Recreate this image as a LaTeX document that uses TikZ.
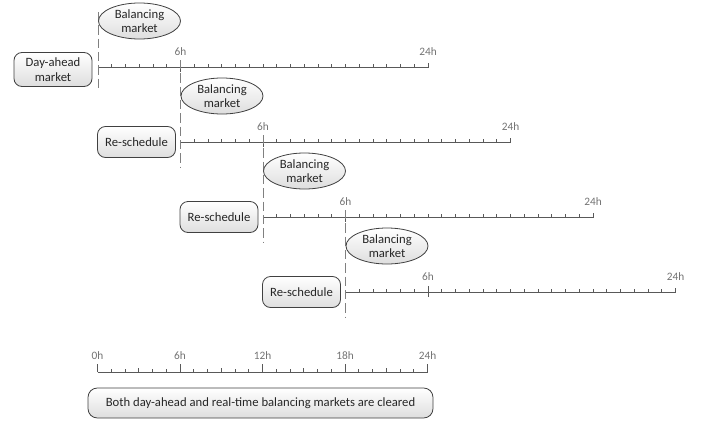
\documentclass[tikz,border=0pt]{standalone}
\usepackage{fontspec}
\setmainfont{Carlito}
\usetikzlibrary{shapes.geometric}
\newcommand{\myrowruler}[2]{% #1 start x, #2 y
  \draw[tl] (#1,#2) -- ++(330,0) -- ++(0,-4);
  \foreach \h in {1,...,23}{
    \draw[tl] (#1+\h*13.75,#2) -- ++(0,-3);
  }
  \draw[tl] (#1+82.5,#2-6) -- ++(0,11);}
\newcommand{\mybottomruler}[2]{% #1 start x, #2 y
  \draw[tl] (#1,#2) -- ++(330,0) -- ++(0,-8);
  \foreach \h in {1,...,23}{
    \pgfmathsetmacro\tk{ifthenelse(mod(\h,6)==0,8,ifthenelse(mod(\h,3)==0,4,3))}
    \draw[tl] (#1+\h*13.75,#2) -- ++(0,-\tk);
  }}
\begin{document}
\begin{tikzpicture}[x=0.75pt,y=-0.75pt,
  font=\fontsize{9.5}{11}\selectfont,
  bm/.style={ellipse, draw=black!75, line width=0.6pt, top color=white, bottom color=black!13,
    minimum width=61.5pt, minimum height=27pt, inner sep=0pt, align=center, text=black!85},
  rbox/.style={rounded corners=6pt, draw=black!75, line width=0.6pt, top color=white, bottom color=black!13,
    minimum width=58.5pt, minimum height=23.25pt, inner sep=0pt, align=center, text=black!85},
  tl/.style={draw=black!65, line width=0.6pt},
  vdash/.style={draw=black!50, line width=0.6pt, dash pattern=on 7pt off 3pt},
  hlab/.style={text=black!55, inner sep=0pt, font=\fontsize{8.5}{10}\selectfont}]
\useasboundingbox (0,0) rectangle (702,421);

% rows
\foreach \k in {1,...,4}{
  \pgfmathsetmacro\sx{98+82.5*(\k-1)}
  \pgfmathsetmacro\ly{67+75*(\k-1)}
  \coordinate (s\k) at (\sx,\ly);
  \myrowruler{\sx}{\ly}
  \node[hlab] (six\k) at (\sx+82.5,\ly-15) {6h};
  \node[hlab] (tf\k) at (\sx+330,\ly-15) {24h};
}

% dashed verticals
\coordinate (d1a) at (98,12);   \coordinate (d1b) at (98,92);
\coordinate (d2a) at (180.5,60); \coordinate (d2b) at (180.5,167);
\coordinate (d3a) at (263,135); \coordinate (d3b) at (263,242);
\coordinate (d4a) at (345.5,210); \coordinate (d4b) at (345.5,317);
\draw[vdash] (d1a) -- (d1b);
\draw[vdash] (d2a) -- (d2b);
\draw[vdash] (d3a) -- (d3b);
\draw[vdash] (d4a) -- (d4b);

% balancing market ellipses
\node[bm] (e1) at (139.5,21) {Balancing\\market};
\node[bm] (e2) at (222,96) {Balancing\\market};
\node[bm] (e3) at (304.5,171) {Balancing\\market};
\node[bm] (e4) at (387,246) {Balancing\\market};

% boxes
\node[rbox, minimum height=25.5pt] (da) at (53,69.5) {Day-ahead\\market};
\node[rbox] (r2) at (136.5,142) {Re-schedule};
\node[rbox] (r3) at (219,217) {Re-schedule};
\node[rbox] (r4) at (301.5,292) {Re-schedule};

% bottom ruler
\coordinate (b0) at (97.5,372);
\mybottomruler{97.5}{372}
\draw[tl] (b0) -- ++(0,-8);
\node[hlab] (l0) at (97.5,356) {0h};
\node[hlab] (l6) at (180,356) {6h};
\node[hlab] (l12) at (262.5,356) {12h};
\node[hlab] (l18) at (345,356) {18h};
\node[hlab] (l24) at (427.5,356) {24h};

\node[rbox, minimum width=258.75pt, minimum height=22.5pt, rounded corners=7pt] (bb) at (260.5,403)
  {Both day-ahead and real-time balancing markets are cleared};
\end{tikzpicture}
\end{document}
